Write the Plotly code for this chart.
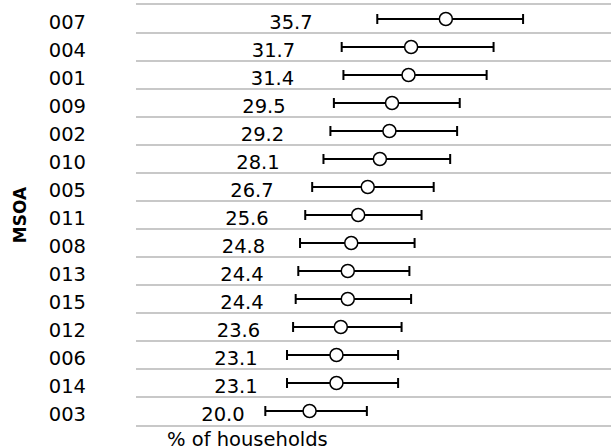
import plotly.graph_objects as go

msoa = ["007", "004", "001", "009", "002", "010", "005", "011", "008", "013", "015", "012", "006", "014", "003"]
values = [35.7, 31.7, 31.4, 29.5, 29.2, 28.1, 26.7, 25.6, 24.8, 24.4, 24.4, 23.6, 23.1, 23.1, 20.0]
lower = [27.8, 23.7, 23.9, 22.8, 22.4, 21.6, 20.3, 19.5, 18.9, 18.7, 18.4, 18.1, 17.4, 17.4, 14.9]
upper = [44.6, 41.2, 40.4, 37.3, 37.0, 36.2, 34.3, 32.9, 32.1, 31.5, 31.7, 30.6, 30.2, 30.2, 26.6]

FONT = "DejaVu Sans"
GRID = "#c8c8c8"

err_plus = [u - v for u, v in zip(upper, values)]
err_minus = [v - l for v, l in zip(values, lower)]

fig = go.Figure()

# invisible bars carrying the value labels (centred inside, nudged slightly down)
fig.add_trace(go.Bar(
    x=values, y=msoa, orientation="h", width=1, offset=-0.4,
    marker=dict(color="rgba(0,0,0,0)", line=dict(width=0)),
    text=[f"{v:.1f}" for v in values],
    textposition="inside", insidetextanchor="middle", textangle=0,
    textfont=dict(family=FONT, size=19.5, color="#000000"),
    hoverinfo="skip", showlegend=False,
))

fig.add_trace(go.Scatter(
    x=values, y=msoa, mode="markers",
    marker=dict(symbol="circle", size=13, color="white",
                line=dict(color="black", width=1.5)),
    error_x=dict(type="data", symmetric=False, array=err_plus,
                 arrayminus=err_minus, color="black", thickness=2, width=5),
    showlegend=False,
))

fig.update_layout(
    width=611, height=448,
    margin=dict(l=136, r=0, t=5, b=23),
    paper_bgcolor="white", plot_bgcolor="white",
    font=dict(family=FONT, size=19.5, color="#000000"),
    bargap=0,
    uniformtext=dict(minsize=19.5, mode="show"),
    xaxis=dict(range=[0, 54.73], showticklabels=False, showgrid=False,
               zeroline=False, ticks="",
               showline=True, mirror=True, linecolor=GRID, linewidth=2),
    yaxis=dict(type="category", categoryorder="array", categoryarray=msoa,
               range=[len(msoa) - 0.5, -0.5], autorange=False,
               tickson="boundaries",
               showgrid=True, gridcolor=GRID, gridwidth=2,
               ticks="", showline=False, zeroline=False,
               ticklabelstandoff=49, ticklabelshift=-3,
               tickfont=dict(family=FONT, size=19.5, color="#000000"),
               title=dict(text="<b>MSOA</b>", standoff=17,
                          font=dict(family=FONT, size=17, color="#000000"))),
    annotations=[dict(
        text="% of households", xref="paper", yref="paper",
        x=0.061, y=0, xanchor="left", yanchor="top", yshift=-1,
        showarrow=False, font=dict(family=FONT, size=19.5, color="#000000"),
    )],
)

fig.write_html("out.html")
